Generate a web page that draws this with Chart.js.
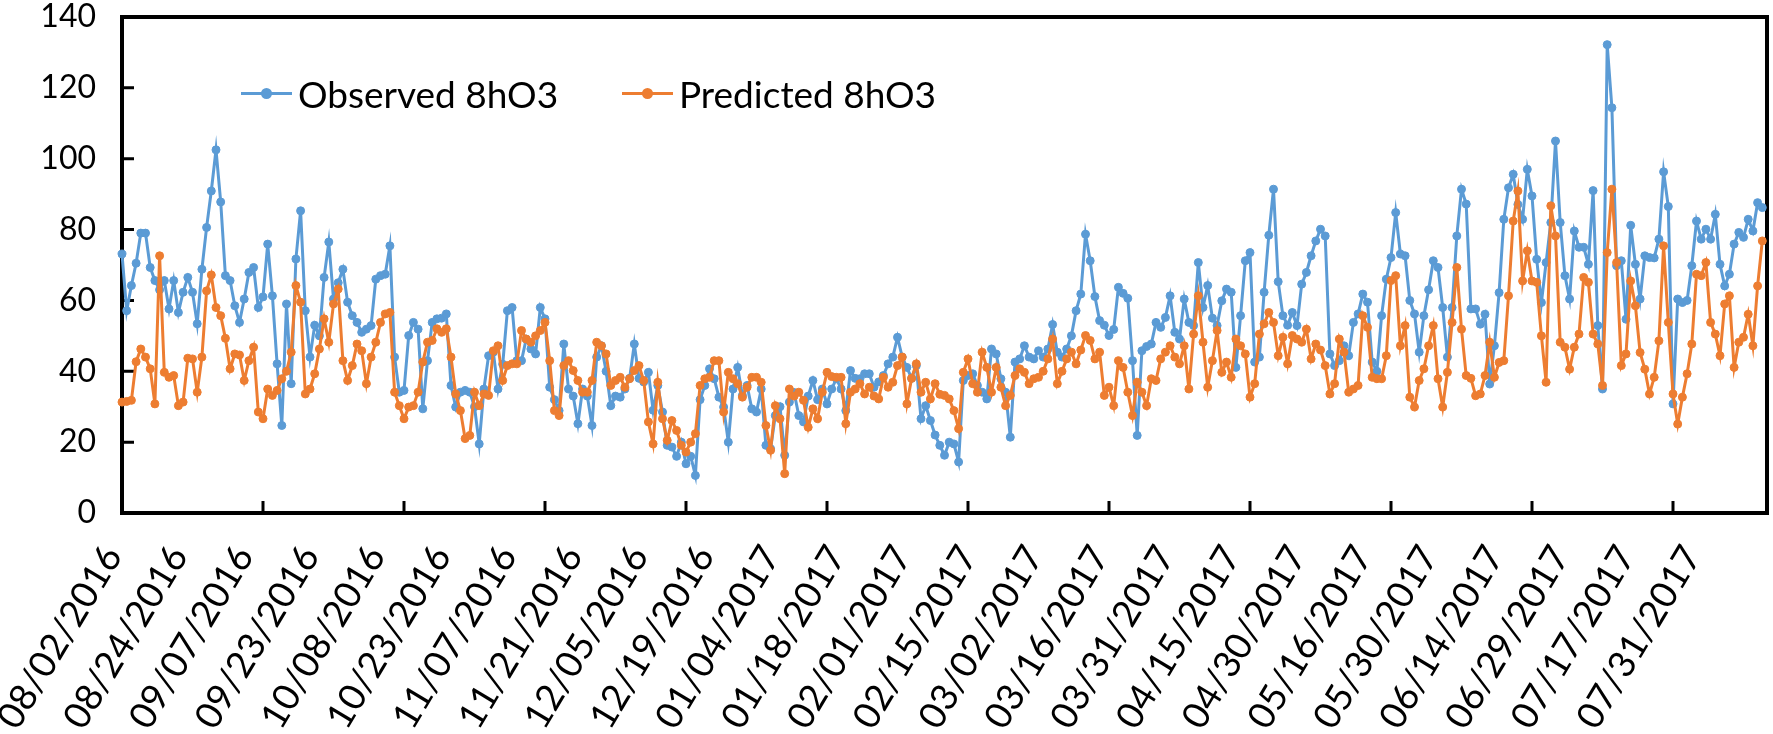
<!DOCTYPE html>
<html>
<head>
<meta charset="utf-8">
<script src="https://cdn.jsdelivr.net/npm/chart.js@4.4.1/dist/chart.umd.min.js"></script>
<style>
  body { margin: 0; background: #fff; }
  #wrap { position: relative; width: 1773px; height: 734px; }
  .leg { position: absolute; top: 71px; height: 44px; display: flex; align-items: center;
         font-family: Lato, sans-serif; font-size: 37px; color: #000; white-space: nowrap; }
  .leg .ln { position: relative; display: inline-block; width: 51px; height: 3px; margin-right: 6px; }
  .leg .ln::after { content: ''; position: absolute; left: 20px; top: -4px; width: 11px; height: 11px;
                    border-radius: 50%; background: inherit; }
</style>
</head>
<body>
<div id="wrap">
  <canvas id="chart" width="1773" height="734"></canvas>
  <div class="leg" style="left:241px"><span class="ln" style="background:#5B9BD5"></span>Observed 8hO3</div>
  <div class="leg" style="left:622px"><span class="ln" style="background:#ED7D31"></span>Predicted 8hO3</div>
</div>
<script>
// x-axis labels, one every 14 days of data
const tickDates = ['08/02/2016', '08/24/2016', '09/07/2016', '09/23/2016', '10/08/2016', '10/23/2016',
    '11/07/2016', '11/21/2016', '12/05/2016', '12/19/2016', '01/04/2017', '01/18/2017', '02/01/2017',
    '02/15/2017', '03/02/2017', '03/16/2017', '03/31/2017', '04/15/2017', '04/30/2017', '05/16/2017',
    '05/30/2017', '06/14/2017', '06/29/2017', '07/17/2017', '07/31/2017'];
const labelStep = 14;
const yTicks = [0, 20, 40, 60, 80, 100, 120, 140];

const observed = [
    73.1, 57.1, 64.2, 70.5, 79.0, 79.0, 69.3, 65.6, 63, 65.6, 57.6, 65.6, 56.6, 62.3, 66.5, 62.3, 53.4, 68.8, 80.6, 90.9,
    102.5, 87.8, 67.0, 65.6, 58.5, 53.8, 60.4, 67.9, 69.3, 58.0, 61, 75.9, 61.3, 42.1, 24.7, 59.0, 36.5, 71.7, 85.3, 57.1,
    44, 53, 50, 66.5, 76.5, 60.4, 65, 68.8, 59.5, 55.7, 53.8, 51.0, 51.9, 52.9, 66.0, 67.0, 67.4, 75.4, 44.0, 34.1,
    34.6, 50.1, 53.8, 51.9, 29.4, 43, 53.8, 54.8, 55, 56.2, 36, 29.9, 34.1, 34.6, 34.1, 30, 19.5, 35, 44.4, 45.4,
    35, 42, 57.1, 58, 43, 43, 49.1, 46.3, 44.9, 58, 54.8, 35.5, 32, 28.9, 47.7, 35, 33, 25.2, 35, 33,
    24.7, 44, 47.2, 40, 30.3, 33, 32.7, 35, 38, 47.7, 38, 37, 39.7, 29, 36, 28.5, 19.1, 18.6, 16, 20,
    13.9, 16, 10.6, 32, 36, 40.7, 37.9, 32.7, 29.9, 20, 35, 41.1, 33.2, 36, 29.4, 28.5, 35, 19.1, 18.1, 27.5,
    30, 16.3, 31.3, 34, 27.5, 25.7, 33, 37.4, 32, 35, 30.8, 35, 37.9, 35, 28.9, 40.2, 38, 37.9, 39.3, 39.3,
    35.5, 37, 38.8, 42.1, 44, 49.6, 44, 41.1, 38, 41.6, 26.6, 30.3, 26.1, 22, 19.1, 16.3, 20, 19.5, 14.4, 37.4,
    38.8, 39.3, 36, 34.1, 32.2, 46.3, 44.9, 37.9, 34.1, 21.4, 42.6, 43.5, 47.2, 44, 43.5, 45.8, 44, 46.3, 53.2, 45.4,
    44, 46.3, 50, 57.1, 61.8, 78.7, 71.2, 61.1, 54.3, 53, 50.1, 51.8, 63.7, 62, 60.6, 43, 21.9, 45.8, 47, 47.7,
    53.8, 52.4, 55.2, 61.3, 51, 49.1, 60.4, 53.8, 52.9, 70.7, 58, 64.2, 55, 52.9, 59.9, 63.2, 62.3, 41.1, 55.7, 71.2,
    73.5, 42.6, 44, 62.3, 78.4, 91.4, 65.3, 55.7, 53, 56.6, 52.9, 64.6, 67.9, 72.6, 76.8, 80.1, 78.2, 44.9, 41.6, 43,
    47.2, 44.4, 53.8, 56.2, 61.8, 59.5, 42.6, 40, 55.7, 66, 72.1, 84.8, 73.1, 72.6, 60, 56.2, 45.4, 55.7, 63, 71.2,
    69.3, 58, 44, 58, 78.2, 91.4, 87.2, 57.6, 57.6, 53.3, 56.1, 36.4, 47.2, 62.2, 82.9, 91.8, 95.6, 87.1, 82.9, 97,
    89.5, 71.6, 59.4, 70.7, 82, 105, 82, 67, 60.4, 79.6, 75, 75, 70.2, 91, 52.9, 35, 132.2, 114.4, 69.8, 71.2,
    54.7, 81.2, 70.2, 60.4, 72.6, 72.1, 72, 77.3, 96.3, 86.5, 30.8, 60.4, 59.4, 60, 69.8, 82.4, 77.3, 80.1, 77.3, 84.3,
    70.2, 64.1, 67.4, 75.9, 79.2, 77.8, 82.9, 79.6, 87.6, 86.2, 71.2
];

const predicted = [
    31.3, 31.5, 31.8, 42.7, 46.3, 44, 40.7, 30.8, 72.6, 39.7, 38.3, 38.8, 30.3, 31.3, 43.7, 43.5, 34.1, 44, 62.7, 67.2,
    58, 55.7, 49.3, 40.7, 44.9, 44.6, 37.4, 43, 46.8, 28.5, 26.6, 35, 33.2, 34.6, 37.9, 40, 45.4, 64.2, 59.5, 33.6,
    35, 39.3, 46.3, 54.8, 48.2, 59, 63.2, 43, 37.4, 41.6, 47.7, 45.8, 36.5, 44, 48.2, 53.8, 56.2, 56.6, 34.1, 30.3,
    26.6, 29.9, 30.3, 34.1, 42.6, 48.2, 48.7, 52, 51, 52, 44, 33.6, 28.9, 21, 21.9, 34.1, 30.3, 33.6, 33.2, 45.8,
    47.2, 37.4, 41.6, 42.1, 42.1, 51.5, 49.1, 48.2, 50, 51.5, 53.8, 43, 28.9, 27.5, 41.6, 43, 40.2, 37.4, 34.1, 34.1,
    37.4, 48.2, 47.2, 44.9, 36, 37.4, 38.3, 35.5, 37.9, 40.2, 41.6, 37.4, 25.7, 19.5, 36.9, 26.6, 20.5, 26.1, 23.3, 19.1,
    17.2, 20, 22.4, 36, 37.9, 38.3, 43, 43, 28.5, 39.7, 37.9, 36.5, 32.7, 35.5, 38.3, 38.3, 36.9, 24.7, 17.7, 30.3,
    26.6, 11.1, 35, 33, 34.1, 31.8, 24.2, 29.4, 26.6, 34.1, 39.7, 38.5, 38.3, 38.3, 25.2, 34.1, 35, 36.5, 33.6, 35.5,
    33, 32.2, 38.3, 35.5, 36.9, 41.6, 44, 30.8, 38, 42.1, 34.1, 36.9, 32.2, 36.5, 33.5, 33.2, 32.2, 28.9, 23.8, 39.7,
    43.5, 36.5, 34.1, 45.4, 41.1, 34.1, 41.1, 35.5, 30.3, 33.2, 38.8, 40.7, 39.7, 36.5, 37.9, 38.3, 40, 43.5, 49.1, 36.5,
    40, 43.5, 45.4, 42.1, 46, 50.1, 48.7, 43.5, 45.4, 33.2, 35.5, 30.3, 43, 41.1, 34.1, 27.5, 36.9, 34.1, 30.3, 37.9,
    37.4, 43.5, 45.4, 47.2, 44, 42.1, 47.2, 35, 50.5, 61.3, 48.2, 35.5, 43, 51.5, 39.7, 42.6, 38.3, 49.1, 47.2, 44.9,
    32.7, 36.5, 50.5, 53.4, 56.6, 53.8, 44.4, 49.6, 42.1, 50.1, 49.1, 48.2, 51.9, 43.5, 47.7, 46, 41.6, 33.6, 36.5, 49.1,
    45.4, 34.1, 35, 36, 55.7, 52.4, 38.3, 37.9, 37.9, 44.4, 65.6, 67, 47.2, 52.9, 32.7, 29.9, 37.4, 40.7, 47.2, 52.9,
    37.9, 29.9, 39.7, 53.8, 69.3, 51.9, 38.8, 38, 33.1, 33.6, 38.8, 48.2, 38.3, 42.5, 43, 61.3, 82.4, 90.9, 65.5, 74,
    65.5, 65.1, 50, 36.9, 86.7, 78.2, 48.2, 46.8, 40.6, 46.8, 50.5, 66.5, 65.1, 50.5, 47.7, 36, 73.5, 91.4, 70.7, 41.6,
    44.9, 65.5, 58.5, 45.3, 40.6, 33.6, 38.3, 48.6, 75.4, 53.8, 33.6, 25.1, 32.7, 39.3, 47.7, 67.4, 67, 70.7, 53.8, 50.5,
    44.4, 59, 61.3, 41.1, 48.2, 49.6, 56.1, 47.2, 64.1, 76.8, 55.7
];

// one category per data point, labelled every labelStep points
const categories = observed.map((_, i) => (i % labelStep === 0 ? tickDates[i / labelStep] : ''));

// box round the plot and inward tick marks, like the Excel original
const frame = {
    id: 'frame',
    beforeDatasetsDraw(chart) {
        const { ctx, chartArea: a, scales: { x, y } } = chart;
        ctx.save();
        ctx.strokeStyle = '#000';
        ctx.lineWidth = 4;
        ctx.strokeRect(a.left, a.top, a.right - a.left, a.bottom - a.top);
        ctx.lineWidth = 3;
        ctx.beginPath();
        for (let i = 0; i < categories.length; i += 30) {
            const px = x.getPixelForValue(i);
            ctx.moveTo(px, a.bottom);
            ctx.lineTo(px, a.bottom - 12);
        }
        yTicks.forEach(v => {
            const py = y.getPixelForValue(v);
            ctx.moveTo(a.left, py);
            ctx.lineTo(a.left + 12, py);
        });
        ctx.stroke();
        ctx.restore();
    }
};

function series(label, values, color, order) {
    return {
        label: label,
        data: values,
        borderColor: color,
        backgroundColor: color,
        borderWidth: 3,
        pointRadius: 4,
        pointBorderWidth: 1,
        pointHoverRadius: 4,
        tension: 0,
        clip: false,
        order: order
    };
}

new Chart(document.getElementById('chart'), {
    type: 'line',
    data: {
        labels: categories,
        datasets: [
            series('Observed 8hO3', observed, '#5B9BD5', 2),
            series('Predicted 8hO3', predicted, '#ED7D31', 1)
        ]
    },
    options: {
        responsive: false,
        animation: false,
        layout: { padding: { top: 17, right: 6, left: 0, bottom: 0 } },
        plugins: { legend: { display: false }, tooltip: { enabled: false } },
        scales: {
            x: {
                type: 'category',
                offset: false,
                grid: { display: false, drawTicks: false },
                border: { display: false },
                ticks: {
                    autoSkip: false,
                    maxRotation: 59,
                    minRotation: 59,
                    padding: 25,
                    labelOffset: -9,
                    color: '#000',
                    font: { family: 'Lato', size: 37 }
                },
                afterFit(scale) {
                    scale.height = 221;
                    scale.paddingLeft = 0;
                    scale.paddingRight = 0;
                }
            },
            y: {
                min: 0,
                max: 140,
                grid: { display: false, drawTicks: false },
                border: { display: false },
                ticks: {
                    stepSize: 20,
                    padding: 26,
                    color: '#000',
                    font: { family: 'Lato', size: 32 }
                },
                afterFit(scale) {
                    scale.width = 122;
                    scale.paddingTop = 0;
                    scale.paddingBottom = 0;
                }
            }
        }
    },
    plugins: [frame]
});
</script>
</body>
</html>
